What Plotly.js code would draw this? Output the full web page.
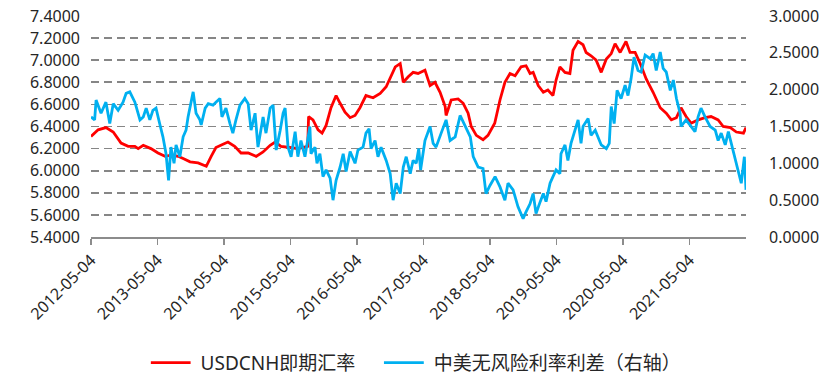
<!DOCTYPE html>
<html>
<head>
<meta charset="utf-8">
<script src="https://cdn.plot.ly/plotly-3.0.1.min.js"></script>
<style>
html,body{margin:0;padding:0;background:#fff;}
#chart{width:830px;height:384px;}
</style>
</head>
<body>
<div id="chart"></div>
<script>
// USDCNH spot rate (left axis)
var cnhDates = ['2012-05-04','2012-06-12','2012-07-25','2012-09-03','2012-10-16','2012-11-24','2012-12-31','2013-01-18','2013-02-15','2013-03-29','2013-05-07','2013-06-15','2013-07-18','2013-08-26','2013-09-22','2013-10-30','2013-12-13','2014-01-27','2014-02-23','2014-03-21','2014-04-29','2014-05-26','2014-07-02','2014-08-06','2014-09-14','2014-10-28','2014-12-05','2015-01-13','2015-02-10','2015-03-13','2015-05-01','2015-06-14','2015-08-07','2015-08-12','2015-09-05','2015-10-03','2015-10-25','2015-11-16','2015-12-13','2016-01-10','2016-02-01','2016-02-28','2016-03-27','2016-04-23','2016-05-20','2016-06-22','2016-07-31','2016-09-08','2016-10-11','2016-11-02','2016-11-30','2016-12-27','2017-01-13','2017-02-09','2017-03-08','2017-04-04','2017-05-12','2017-06-09','2017-07-06','2017-08-03','2017-08-31','2017-09-05','2017-10-03','2017-11-10','2017-12-08','2018-01-04','2018-01-21','2018-02-18','2018-03-27','2018-04-23','2018-05-30','2018-06-28','2018-07-25','2018-08-22','2018-09-19','2018-10-22','2018-11-18','2018-12-10','2018-12-27','2019-01-24','2019-02-21','2019-03-18','2019-04-15','2019-05-02','2019-05-23','2019-06-20','2019-07-17','2019-08-03','2019-08-31','2019-09-27','2019-10-14','2019-11-10','2019-12-08','2020-01-05','2020-02-02','2020-02-29','2020-03-21','2020-04-18','2020-05-20','2020-06-11','2020-07-09','2020-08-06','2020-09-08','2020-10-16','2020-11-24','2020-12-27','2021-01-24','2021-02-21','2021-03-18','2021-04-15','2021-05-12','2021-06-20','2021-07-28','2021-08-30','2021-10-08','2021-11-05','2021-12-14','2022-01-16','2022-02-24','2022-03-10'];
var cnhValues = [6.31,6.37,6.39,6.35,6.25,6.22,6.22,6.20,6.23,6.20,6.16,6.13,6.14,6.13,6.11,6.08,6.07,6.04,6.13,6.21,6.24,6.26,6.22,6.16,6.16,6.13,6.17,6.23,6.26,6.22,6.21,6.20,6.22,6.49,6.46,6.37,6.34,6.41,6.57,6.68,6.61,6.53,6.48,6.50,6.57,6.68,6.66,6.70,6.76,6.84,6.94,6.97,6.80,6.85,6.89,6.88,6.91,6.77,6.80,6.71,6.58,6.50,6.64,6.65,6.61,6.52,6.40,6.32,6.28,6.32,6.43,6.64,6.80,6.88,6.86,6.94,6.95,6.88,6.89,6.77,6.71,6.73,6.68,6.82,6.94,6.89,6.88,7.09,7.17,7.14,7.07,7.04,7.00,6.89,7.01,7.06,7.15,7.07,7.17,7.07,7.07,6.97,6.83,6.71,6.57,6.52,6.46,6.48,6.57,6.49,6.43,6.46,6.48,6.49,6.46,6.40,6.39,6.35,6.34,6.39];

// China-US risk-free rate spread (right axis)
var spreadDates = ['2012-05-04','2012-05-24','2012-06-01','2012-06-28','2012-07-25','2012-08-15','2012-09-03','2012-09-30','2012-10-27','2012-11-13','2012-12-03','2012-12-31','2013-01-28','2013-02-15','2013-03-03','2013-03-23','2013-04-09','2013-04-26','2013-05-16','2013-06-03','2013-06-20','2013-07-04','2013-07-17','2013-08-03','2013-08-14','2013-09-04','2013-09-22','2013-10-08','2013-10-19','2013-11-16','2013-12-02','2013-12-23','2013-12-30','2014-01-21','2014-02-07','2014-03-05','2014-03-21','2014-04-12','2014-04-23','2014-05-15','2014-06-06','2014-06-22','2014-07-09','2014-07-31','2014-08-27','2014-09-14','2014-09-30','2014-10-22','2014-11-07','2014-12-05','2014-12-21','2015-01-13','2015-01-29','2015-02-15','2015-03-09','2015-03-25','2015-04-05','2015-04-21','2015-05-08','2015-05-30','2015-06-14','2015-07-01','2015-07-23','2015-08-08','2015-08-19','2015-08-25','2015-09-16','2015-09-27','2015-10-13','2015-10-30','2015-11-16','2015-12-08','2015-12-24','2016-01-10','2016-02-01','2016-02-18','2016-03-05','2016-03-27','2016-04-23','2016-05-09','2016-06-06','2016-06-22','2016-07-09','2016-07-20','2016-08-11','2016-08-27','2016-09-13','2016-10-11','2016-11-02','2016-11-18','2016-12-05','2016-12-27','2017-01-13','2017-01-29','2017-02-20','2017-03-08','2017-03-25','2017-04-08','2017-04-18','2017-05-12','2017-06-09','2017-06-26','2017-07-12','2017-08-09','2017-09-05','2017-09-27','2017-10-25','2017-11-21','2017-12-19','2018-01-16','2018-02-01','2018-02-28','2018-03-27','2018-04-12','2018-05-04','2018-06-01','2018-06-28','2018-07-25','2018-08-11','2018-09-08','2018-10-05','2018-11-02','2018-11-18','2018-12-10','2018-12-27','2019-01-12','2019-02-04','2019-02-21','2019-03-08','2019-03-30','2019-04-15','2019-05-02','2019-05-23','2019-05-29','2019-06-20','2019-07-06','2019-07-23','2019-08-14','2019-08-31','2019-09-16','2019-09-27','2019-10-25','2019-11-10','2019-12-03','2019-12-19','2020-01-05','2020-02-02','2020-02-18','2020-02-29','2020-03-16','2020-04-01','2020-04-23','2020-05-15','2020-05-31','2020-06-17','2020-07-03','2020-07-25','2020-08-11','2020-09-02','2020-09-30','2020-10-16','2020-11-02','2020-11-24','2020-12-10','2020-12-27','2021-01-18','2021-02-04','2021-02-21','2021-03-13','2021-03-18','2021-04-15','2021-05-12','2021-06-03','2021-06-20','2021-07-06','2021-07-28','2021-08-25','2021-09-22','2021-10-08','2021-10-25','2021-11-16','2021-12-03','2021-12-19','2022-01-10','2022-01-27','2022-02-12','2022-03-01','2022-03-10'];
var spreadValues = [1.63,1.59,1.86,1.68,1.83,1.54,1.81,1.72,1.83,1.95,1.97,1.83,1.59,1.63,1.75,1.59,1.72,1.75,1.54,1.36,1.13,0.77,1.22,1.00,1.25,1.09,1.36,1.45,1.63,1.97,1.68,1.59,1.52,1.75,1.81,1.79,1.83,1.88,1.63,1.75,1.54,1.41,1.59,1.79,1.88,1.81,1.45,1.68,1.22,1.63,1.41,1.75,1.79,1.18,1.45,1.68,1.75,1.22,1.09,1.43,1.09,1.31,1.09,1.36,1.50,1.13,1.22,1.00,1.13,0.82,0.91,0.80,0.50,0.77,0.95,1.13,0.89,1.16,1.00,1.18,1.22,1.41,1.47,1.20,1.31,1.09,1.22,1.04,0.86,0.50,0.73,0.59,0.95,1.09,0.86,1.04,1.00,1.20,0.91,1.31,1.50,1.27,1.22,1.41,1.59,1.31,1.36,1.65,1.50,1.36,1.09,0.95,0.93,0.59,0.70,0.82,0.68,0.50,0.73,0.64,0.41,0.25,0.34,0.45,0.59,0.32,0.48,0.59,0.48,0.73,0.82,0.91,0.86,1.13,1.25,1.04,1.27,1.45,1.59,1.27,1.50,1.61,1.38,1.45,1.34,1.25,1.20,1.27,1.77,1.54,1.99,1.88,2.06,1.92,2.15,2.44,2.26,2.24,2.47,2.42,2.49,2.26,2.51,2.29,2.24,1.99,2.13,1.88,1.68,1.50,1.59,1.50,1.43,1.63,1.75,1.63,1.50,1.45,1.31,1.41,1.25,1.43,1.27,1.04,0.86,0.73,1.09,0.64];

var tickDates = ['2012-05-04','2013-05-04','2014-05-04','2015-05-04','2016-05-04','2017-05-04','2018-05-04','2019-05-04','2020-05-04','2021-05-04'];
var leftTicks = [5.4,5.6,5.8,6.0,6.2,6.4,6.6,6.8,7.0,7.2,7.4];
var rightTicks = [0,0.5,1.0,1.5,2.0,2.5,3.0];
var seriesNames = ['USDCNH即期汇率','中美无风险利率利差（右轴）'];

var fontFam = '"Noto Sans", "Noto Sans CJK SC", sans-serif';
var txtColor = '#262626';

var traces = [
  {x: cnhDates, y: cnhValues, name: seriesNames[0], type: 'scatter', mode: 'lines',
   line: {color: '#FF0000', width: 2.8}, yaxis: 'y', legend: 'legend'},
  {x: spreadDates, y: spreadValues, name: seriesNames[1], type: 'scatter', mode: 'lines',
   line: {color: '#00B0F0', width: 2.8}, yaxis: 'y2', legend: 'legend2'}
];

var legendFont = {family: fontFam, size: 19, color: txtColor};

var layout = {
  width: 830, height: 384,
  margin: {l: 91, r: 84, t: 16, b: 147, pad: 0, autoexpand: false},
  paper_bgcolor: '#fff', plot_bgcolor: '#fff',
  font: {family: fontFam, size: 16, color: txtColor},
  showlegend: true,
  legend: {orientation: 'h', x: 0.091, xanchor: 'left', y: -0.569, yanchor: 'middle',
           font: legendFont, itemwidth: 40, bgcolor: 'rgba(0,0,0,0)'},
  legend2: {orientation: 'h', x: 0.447, xanchor: 'left', y: -0.569, yanchor: 'middle',
           font: legendFont, itemwidth: 40, bgcolor: 'rgba(0,0,0,0)'},
  xaxis: {
    type: 'date', range: ['2012-05-04', '2022-03-10'],
    tickmode: 'array', tickvals: tickDates, ticktext: tickDates,
    tickangle: -45, ticks: 'outside', ticklen: 6, tickwidth: 1.5, tickcolor: '#8c8c8c',
    showline: true, linecolor: '#8c8c8c', linewidth: 1.5, showgrid: false, zeroline: false,
    tickfont: {family: fontFam, size: 16, color: txtColor}
  },
  yaxis: {
    range: [5.4, 7.4], tickmode: 'array', tickvals: leftTicks,
    tickformat: '.4f', showgrid: true, gridcolor: '#868686', gridwidth: 1.7, griddash: '8px,5px',
    zeroline: false, showline: false, ticks: '', ticklabelstandoff: 10,
    tickfont: {family: fontFam, size: 16, color: txtColor}
  },
  yaxis2: {
    range: [0, 3], overlaying: 'y', side: 'right', tickmode: 'array', tickvals: rightTicks,
    tickformat: '.4f', showgrid: false, zeroline: false, showline: false, ticks: '',
    ticklabelstandoff: 22,
    tickfont: {family: fontFam, size: 16, color: txtColor}
  }
};

Plotly.newPlot('chart', traces, layout, {staticPlot: true, displayModeBar: false}).then(function(gd){
  // lengthen legend line samples to 40px like the original
  var paths = gd.querySelectorAll('.legendlines path');
  paths.forEach(function(p){ p.setAttribute('d', 'M0,0h40'); });
});
</script>
</body>
</html>
